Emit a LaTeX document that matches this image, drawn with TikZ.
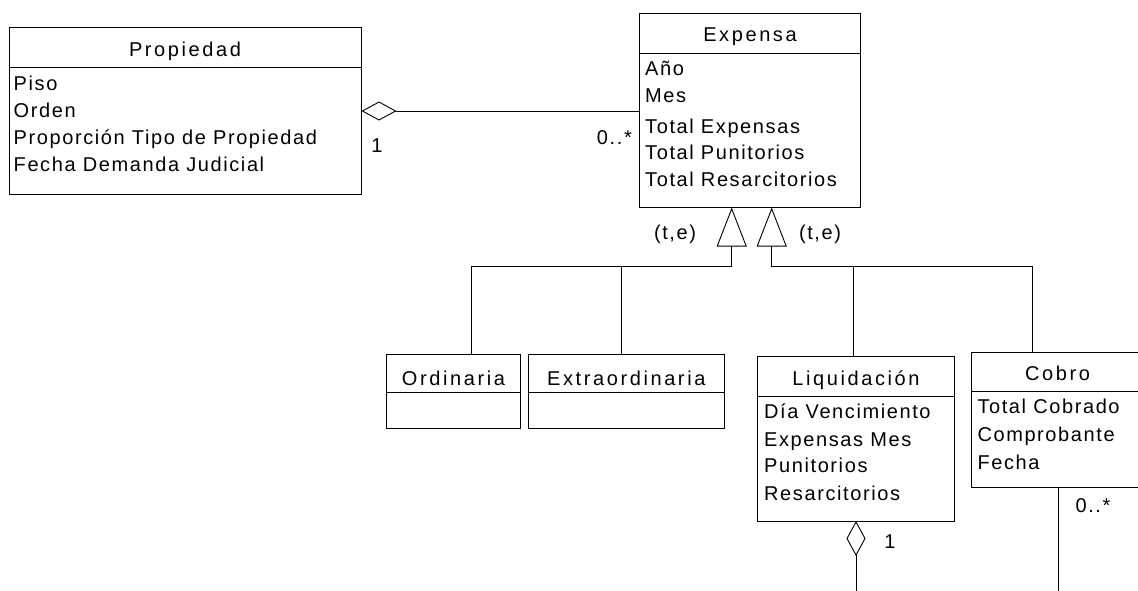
\documentclass[tikz,border=0pt]{standalone}
\usepackage{fontspec}
\setmainfont[LetterSpace=8]{Liberation Sans}
\newfontfamily\clsfont[LetterSpace=13]{Liberation Sans}
\usetikzlibrary{arrows.meta}
\tikzset{
  box/.style={draw, line width=0.9pt, inner sep=0pt, outer sep=0pt, anchor=north west},
  attr/.style={inner sep=0pt, anchor=base west, font=\fontsize{20}{24}\selectfont},
  ttl/.style={inner sep=0pt, anchor=base, font=\clsfont\fontsize{20}{24}\selectfont},
  lbl/.style={inner sep=0pt, anchor=base, font=\fontsize{20}{24}\selectfont},
  conn/.style={line width=0.9pt},
  gen/.style={conn, -{Triangle[open, length=39pt, width=30pt, line width=0.9pt]}},
  agg/.style={conn, {Diamond[open, length=35pt, width=19pt, line width=0.9pt]}-},
}
\begin{document}
\begin{tikzpicture}[x=1pt, y=-1pt]
\useasboundingbox (0,0) rectangle (1138,590);

% Propiedad
\node[box, minimum width=352.5pt, minimum height=39.5pt] (ph) at (9,27.5) {};
\node[box, minimum width=352.5pt, minimum height=127pt] (pb) at (9,67) {};
\node[ttl] (pt) at (185,56) {Propiedad};
\node[attr] (p1) at (13.5,90) {Piso};
\node[attr] (p2) at (13.5,117) {Orden};
\node[attr] (p3) at (13.5,144.5) {Proporción Tipo de Propiedad};
\node[attr] (p4) at (13.5,171.5) {Fecha Demanda Judicial};

% Expensa
\node[box, minimum width=221pt, minimum height=40.5pt] (eh) at (639.3,13.3) {};
\node[box, minimum width=221pt, minimum height=153.7pt] (eb) at (639.3,53.8) {};
\node[ttl] (et) at (750,41) {Expensa};
\node[attr] (e1) at (645,75.7) {Año};
\node[attr] (e2) at (645,102.5) {Mes};
\node[attr] (e3) at (645,133) {Total Expensas};
\node[attr] (e4) at (645,159.5) {Total Punitorios};
\node[attr] (e5) at (645,186) {Total Resarcitorios};

% Ordinaria
\node[box, minimum width=134pt, minimum height=38pt] (oh) at (386.5,354.5) {};
\node[box, minimum width=134pt, minimum height=36pt] (ob) at (386.5,392.5) {};
\node[ttl] (ot) at (453.5,385) {Ordinaria};

% Extraordinaria
\node[box, minimum width=195.5pt, minimum height=38pt] (xh) at (528.5,354.5) {};
\node[box, minimum width=195.5pt, minimum height=36pt] (xb) at (528.5,392.5) {};
\node[ttl] (xt) at (626.3,385) {Extraordinaria};

% Liquidacion
\node[box, minimum width=197pt, minimum height=40pt] (lh) at (757.5,356) {};
\node[box, minimum width=197pt, minimum height=125pt] (lb) at (757.5,396) {};
\node[ttl] (lt) at (856,385) {Liquidación};
\node[attr] (l1) at (764,418.3) {Día Vencimiento};
\node[attr] (l2) at (764,446.5) {Expensas Mes};
\node[attr] (l3) at (764,472) {Punitorios};
\node[attr] (l4) at (764,500.5) {Resarcitorios};

% Cobro
\node[box, minimum width=172pt, minimum height=39pt] (ch) at (971.5,352) {};
\node[box, minimum width=172pt, minimum height=96pt] (cb) at (971.5,391) {};
\node[ttl] (ct) at (1057.5,380) {Cobro};
\node[attr] (c1) at (977.3,413.3) {Total Cobrado};
\node[attr] (c2) at (977.3,441) {Comprobante};
\node[attr] (c3) at (977.3,469.3) {Fecha};

% aggregation Propiedad - Expensa
\coordinate (ay) at (0,111);
\draw[agg] (pb.east |- ay) -- (eb.west |- ay);
\node[lbl] (m1) at (377,152) {1};
\node[lbl, anchor=base east] (m2) at (632,144.3) {0..*};

% generalizations
\coordinate (g1) at (731.7,266);
\coordinate (g2) at (771.7,266);
\coordinate (k1) at (471.7,266);
\coordinate (k2) at (621.7,266);
\coordinate (k3) at (853.3,266);
\coordinate (k4) at (1032.7,266);
\draw[gen] (k1 |- oh.north) -- (k1) -- (g1) -- (g1 |- eb.south);
\draw[conn] (k2 |- xh.north) -- (k2);
\draw[gen] (k4 |- ch.north) -- (k4) -- (g2) -- (g2 |- eb.south);
\draw[conn] (k3 |- lh.north) -- (k3);
\node[lbl] (te1) at (675,239) {(t,e)};
\node[lbl] (te2) at (820,239) {(t,e)};

% Liquidacion bottom aggregation
\coordinate (d1) at (856,593);
\draw[agg] (lb.south -| d1) -- (d1);
\node[lbl] (m3) at (890,548.3) {1};

% Cobro bottom association
\coordinate (d2) at (1058.3,593);
\draw[conn] (cb.south -| d2) -- (d2);
\node[lbl] (m4) at (1093,512.7) {0..*};
\end{tikzpicture}
\end{document}
